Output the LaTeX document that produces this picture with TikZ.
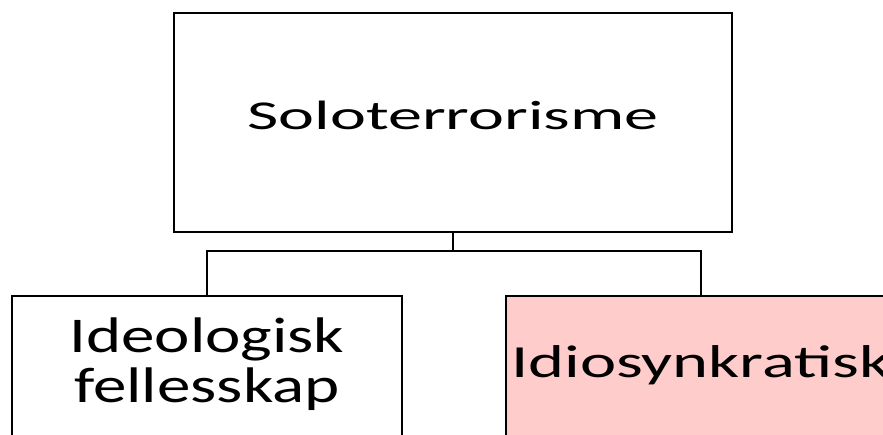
\documentclass[tikz,border=0pt]{standalone}
\usepackage{fontspec}
\setmainfont{Carlito}
\usepackage{graphicx}

\definecolor{idiopink}{RGB}{255,204,204}

\begin{document}
\begin{tikzpicture}[x=1pt, y=1pt,
    box/.style={draw, line width=2.2pt, rectangle, inner sep=0pt, outer sep=0pt},
    link/.style={line width=2.2pt}]
\useasboundingbox (0,0) rectangle (883,434);
\clip (0,0) rectangle (883,434);

% Root - Soloterrorisme
\node[box, minimum width=558, minimum height=219, text height=32, text depth=17] (solo) at (453,311.5) {
    \fontsize{41}{41}\selectfont\scalebox{1.66}[1]{Soloterrorisme}
};

% Left child
\node[box, minimum width=390, minimum height=149, text height=90, text depth=27] (ideo) at (207,63.5) {
    \fontsize{50}{49}\selectfont\scalebox{1.34}[1]{\begin{tabular}[b]{@{}c@{}}Ideologisk\\fellesskap\end{tabular}}
};

% Right child (highlighted)
\node[box, fill=idiopink, minimum width=390, minimum height=149, text height=35, text depth=22] (idio) at (701,63.5) {
    \fontsize{46}{46}\selectfont\scalebox{1.49}[1]{Idiosynkratisk}
};

% Tree lines
\coordinate (fork) at (453,183);
\draw[link] (solo.south) -- (fork);
\draw[link] (ideo.north) |- (fork) -| (idio.north);
\end{tikzpicture}
\end{document}
